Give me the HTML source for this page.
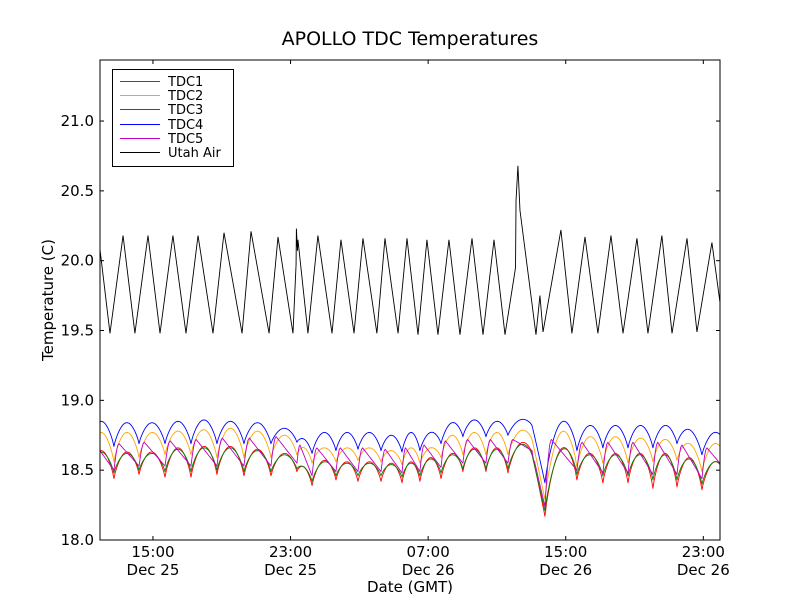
<!DOCTYPE html>
<html><head><meta charset="utf-8"><style>
body{margin:0;background:#fff;}
svg{display:block;font-family:"DejaVu Sans","Liberation Sans",sans-serif;}
</style></head><body>
<svg id="chart" width="800" height="600" viewBox="0 0 800 600" xmlns="http://www.w3.org/2000/svg">
<rect x="0" y="0" width="800" height="600" fill="#fff"/>
<text x="410" y="45" text-anchor="middle" font-size="19">APOLLO TDC Temperatures</text>
<text transform="translate(53,300) rotate(-90)" text-anchor="middle" font-size="15">Temperature (C)</text>
<text x="410" y="592" text-anchor="middle" font-size="15">Date (GMT)</text>
<defs><clipPath id="plotclip"><rect x="100" y="60" width="620" height="480"/></clipPath></defs>
<g id="series" clip-path="url(#plotclip)"></g>
<g id="axes"></g>
<g id="legend"></g>
</svg>
<script>
// ---- data (hours since Dec 25 00:00 GMT) ----
const xTickHours = [15, 23, 31, 39, 47];
const xTickTimes = ["15:00", "23:00", "07:00", "15:00", "23:00"];
const xTickDates = ["Dec 25", "Dec 25", "Dec 26", "Dec 26", "Dec 26"];
const yTicks = [18.0, 18.5, 19.0, 19.5, 20.0, 20.5, 21.0];
const seriesNames = ["TDC1", "TDC2", "TDC3", "TDC4", "TDC5", "Utah Air"];

const airTimes = [11.92,12.50,13.26,13.95,14.71,15.41,16.16,16.92,17.62,18.49,19.13,20.18,20.70,21.75,22.27,23.14,23.32,23.34,23.40,23.43,24.01,24.59,25.41,25.93,26.69,27.21,28.02,28.49,29.25,29.77,30.41,30.93,31.57,32.21,32.85,33.55,34.19,34.83,35.47,36.08,36.11,36.22,36.34,37.27,37.50,37.68,38.72,39.36,40.12,40.87,41.63,42.33,43.14,43.78,44.59,45.18,46.05,46.63,47.50,47.97];
const airValues = [20.08,19.48,20.18,19.48,20.18,19.48,20.18,19.48,20.18,19.48,20.20,19.48,20.21,19.48,20.17,19.48,19.97,20.23,20.07,20.15,19.48,20.18,19.48,20.15,19.48,20.16,19.48,20.16,19.48,20.16,19.47,20.15,19.47,20.15,19.47,20.16,19.47,20.15,19.47,19.95,20.43,20.68,20.36,19.47,19.75,19.49,20.22,19.48,20.17,19.48,20.18,19.48,20.16,19.48,20.18,19.48,20.16,19.49,20.13,19.70];

const troughTimes = [11.28,12.73,14.19,15.70,17.21,18.72,20.29,21.86,23.37,24.25,25.64,26.92,28.26,29.48,30.52,31.75,33.02,34.36,35.64,37.04,37.79,39.65,41.16,42.62,44.07,45.47,46.92,48.37];

const tdc1Troughs = [18.46,18.44,18.47,18.45,18.45,18.47,18.46,18.46,18.49,18.39,18.43,18.42,18.42,18.41,18.42,18.44,18.49,18.49,18.48,18.62,18.17,18.43,18.41,18.41,18.37,18.38,18.36,18.42];
const tdc1Peaks = [18.64,18.63,18.63,18.66,18.67,18.67,18.65,18.62,18.52,18.57,18.56,18.56,18.55,18.56,18.59,18.62,18.66,18.66,18.69,18.40,18.65,18.62,18.62,18.62,18.62,18.59,18.56];
const tdc2Troughs = [18.59,18.56,18.59,18.61,18.61,18.59,18.59,18.59,18.61,18.55,18.56,18.57,18.56,18.54,18.55,18.59,18.61,18.61,18.61,18.72,18.29,18.52,18.55,18.55,18.56,18.57,18.49,18.55];
const tdc2Peaks = [18.77,18.77,18.77,18.78,18.79,18.80,18.78,18.75,18.66,18.66,18.66,18.66,18.64,18.66,18.66,18.75,18.77,18.77,18.78,18.51,18.77,18.74,18.74,18.73,18.72,18.69,18.69];
const tdc3Troughs = [18.50,18.48,18.50,18.49,18.49,18.50,18.49,18.49,18.51,18.42,18.46,18.46,18.46,18.45,18.46,18.48,18.51,18.51,18.51,18.61,18.21,18.47,18.46,18.46,18.43,18.43,18.40,18.46];
const tdc3Peaks = [18.63,18.62,18.62,18.65,18.66,18.66,18.64,18.61,18.52,18.56,18.55,18.55,18.54,18.55,18.58,18.61,18.65,18.65,18.68,18.41,18.64,18.61,18.61,18.61,18.61,18.58,18.56];
const tdc4Troughs = [18.69,18.67,18.69,18.69,18.69,18.69,18.69,18.69,18.70,18.62,18.64,18.65,18.64,18.63,18.64,18.69,18.74,18.74,18.75,18.82,18.41,18.64,18.66,18.66,18.66,18.69,18.61,18.66];
const tdc4Peaks = [18.85,18.84,18.84,18.85,18.86,18.85,18.84,18.80,18.72,18.77,18.77,18.77,18.75,18.77,18.77,18.84,18.86,18.85,18.86,18.62,18.84,18.82,18.82,18.82,18.82,18.79,18.77];
const tdc5Troughs = [18.52,18.50,18.53,18.53,18.53,18.53,18.53,18.53,18.55,18.46,18.49,18.49,18.49,18.48,18.49,18.52,18.55,18.55,18.55,18.64,18.24,18.50,18.48,18.48,18.47,18.47,18.44,18.49];
const tdc5Peaks = [18.70,18.69,18.70,18.71,18.72,18.73,18.73,18.74,18.68,18.66,18.66,18.66,18.65,18.66,18.68,18.71,18.72,18.72,18.72,18.56,18.72,18.70,18.70,18.70,18.70,18.68,18.66];

// ---- layout ----
const X0 = 100, X1 = 720, Y0 = 540, Y1 = 60;
const tMin = 11.92, tMax = 47.97, vMin = 18.0, vMax = 21.437;
function xScale(t){ return X0 + (t - tMin) / (tMax - tMin) * (X1 - X0); }
function yScale(v){ return Y0 - (v - vMin) / (vMax - vMin) * (Y0 - Y1); }
const NS = "http://www.w3.org/2000/svg";
function mk(tag, attrs, parent){
  const e = document.createElementNS(NS, tag);
  for (const k in attrs) e.setAttribute(k, attrs[k]);
  parent.appendChild(e);
  return e;
}
const seriesG = document.getElementById('series');
const axesG = document.getElementById('axes');
const legendG = document.getElementById('legend');

function humpPoints(troughs, peaks, saw){
  const pts = [];
  for (let i = 0; i < peaks.length; i++){
    const ta = troughTimes[i], tb = troughTimes[i+1];
    const va = troughs[i], vb = troughs[i+1], p = peaks[i];
    const N = 20;
    for (let k = 0; k <= N; k++){
      if (i > 0 && k === 0) continue;
      const f = k / N;
      let v;
      if (saw){
        v = f < 0.2 ? va + (p - va) * Math.sin(Math.PI / 2 * f / 0.2) : p + (vb - p) * ((f - 0.2) / 0.8);
      } else {
        const base = va + (vb - va) * f;
        const mid = (va + vb) / 2;
        v = base + (p - mid) * Math.pow(Math.sin(Math.PI * f), 0.8);
      }
      const t = ta + (tb - ta) * f;
      pts.push(xScale(t).toFixed(2) + ',' + yScale(v).toFixed(2));
    }
  }
  return pts.join(' ');
}

const specs = [
  [tdc1Troughs, tdc1Peaks, false, '#ff0000', 'line-tdc1'],
  [tdc2Troughs, tdc2Peaks, false, '#ffa500', 'line-tdc2'],
  [tdc3Troughs, tdc3Peaks, false, '#008000', 'line-tdc3'],
  [tdc4Troughs, tdc4Peaks, false, '#0000ff', 'line-tdc4'],
  [tdc5Troughs, tdc5Peaks, true, '#bf00bf', 'line-tdc5']
];
specs.forEach(s => {
  const pl = mk('polyline', {points: humpPoints(s[0], s[1], s[2]), fill: 'none', stroke: s[3], 'stroke-width': 0.9, 'stroke-linejoin': 'round'}, seriesG);
  
  
});
const airPts = airTimes.map((t, i) => xScale(t).toFixed(2) + ',' + yScale(airValues[i]).toFixed(2)).join(' ');
const air = mk('polyline', {points: airPts, fill: 'none', stroke: '#000', 'stroke-width': 0.9}, seriesG);



// axes frame
const frame = mk('rect', {x: X0, y: Y1, width: X1 - X0, height: Y0 - Y1, fill: 'none', stroke: '#000', 'stroke-width': 1}, axesG);



yTicks.forEach(v => {
  const y = yScale(v);
  mk('line', {x1: X0, x2: X0 + 4, y1: y, y2: y, stroke: '#000'}, axesG);
  mk('line', {x1: X1, x2: X1 - 4, y1: y, y2: y, stroke: '#000'}, axesG);
  const tx = mk('text', {x: X0 - 6, y: y + 5, 'text-anchor': 'end', 'font-size': 15}, axesG);
  tx.textContent = v.toFixed(1);
  
  
});
xTickHours.forEach((h, i) => {
  const x = xScale(h);
  mk('line', {x1: x, x2: x, y1: Y0, y2: Y0 - 4, stroke: '#000'}, axesG);
  mk('line', {x1: x, x2: x, y1: Y1, y2: Y1 + 4, stroke: '#000'}, axesG);
  const t1 = mk('text', {x: x, y: 557, 'text-anchor': 'middle', 'font-size': 15}, axesG);
  t1.textContent = xTickTimes[i];
  
  
  const t2 = mk('text', {x: x, y: 575, 'text-anchor': 'middle', 'font-size': 15}, axesG);
  t2.textContent = xTickDates[i];
  
  
});

// legend
const lb = mk('rect', {x: 112.5, y: 69.5, width: 121, height: 97, fill: '#fff', stroke: '#000', 'stroke-width': 1}, legendG);


const legendColors = ['#ff0000', '#ffa500', '#008000', '#0000ff', '#bf00bf', '#000000'];
seriesNames.forEach((n, i) => {
  const y = Math.round(81 + i * 14.2);
  const g = mk('g', {}, legendG);
  
  
  mk('rect', {x: 120, y: y, width: 40, height: 1, fill: legendColors[i]}, g);
  const t = mk('text', {x: 168, y: y + 5, 'font-size': 13}, g);
  t.textContent = n;
});
</script>
</body></html>
